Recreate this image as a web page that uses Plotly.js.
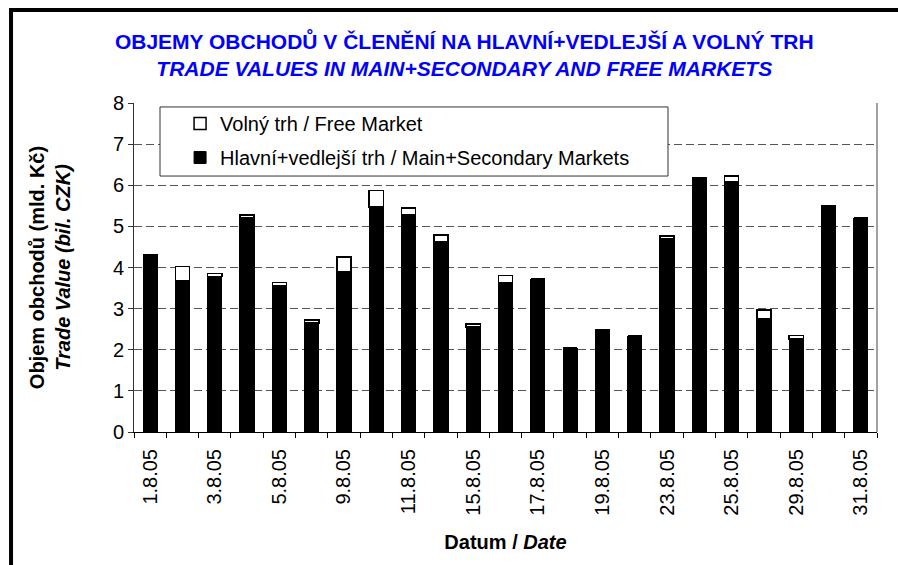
<!DOCTYPE html>
<html>
<head>
<meta charset="utf-8">
<script src="https://cdn.plot.ly/plotly-3.0.1.min.js"></script>
<style>html,body{margin:0;padding:0;background:#fff;}#chart{width:898px;height:565px;}</style>
</head>
<body>
<div id="chart"></div>
<script>
var categories = ['1.8.05','2.8.05','3.8.05','4.8.05','5.8.05','8.8.05','9.8.05','10.8.05','11.8.05','12.8.05','15.8.05','16.8.05','17.8.05','18.8.05','19.8.05','22.8.05','23.8.05','24.8.05','25.8.05','26.8.05','29.8.05','30.8.05','31.8.05'];
var mainSecondary = [4.31,3.69,3.78,5.21,3.56,2.65,3.89,5.47,5.28,4.63,2.55,3.62,3.72,2.04,2.48,2.33,4.71,6.19,6.08,2.76,2.26,5.51,5.20];
var freeMarket = [0,0.34,0.07,0.07,0.07,0.07,0.37,0.40,0.17,0.16,0.08,0.19,0,0,0,0,0.06,0,0.14,0.21,0.09,0,0];
var tickLabels = ['1.8.05','','3.8.05','','5.8.05','','9.8.05','','11.8.05','','15.8.05','','17.8.05','','19.8.05','','23.8.05','','25.8.05','','29.8.05','','31.8.05'];

var FONT = 'Arial, "Liberation Sans", Helvetica, sans-serif';

var traces = [
  {type:'bar', name:'Hlavní+vedlejší trh / Main+Secondary Markets', x:categories, y:mainSecondary,
   legendgroup:'a', legendrank:2, marker:{color:'#000000', line:{color:'#000000', width:1}}, hoverinfo:'x+y'},
  {type:'bar', name:'Volný trh / Free Market', x:categories, y:freeMarket,
   legendgroup:'b', legendrank:1, marker:{color:'#ffffff', line:{color:'#000000', width:1.5}}, hoverinfo:'x+y'}
];

var layout = {
  width:898, height:565,
  margin:{l:134, r:21, t:103, b:133, pad:0},
  paper_bgcolor:'#ffffff', plot_bgcolor:'#ffffff',
  barmode:'stack', bargap:0.56,
  font:{family:FONT, size:20, color:'#000000'},
  title:{
    text:'<b>OBJEMY OBCHODŮ V ČLENĚNÍ NA HLAVNÍ+VEDLEJŠÍ A VOLNÝ TRH</b><br><b><i>TRADE VALUES IN MAIN+SECONDARY AND FREE MARKETS</i></b>',
    font:{family:FONT, size:21, color:'#0000ff'},
    x:0.517, xanchor:'center', xref:'container',
    y:0.913, yanchor:'top', yref:'container'
  },
  xaxis:{
    type:'category', categoryorder:'array', categoryarray:categories,
    range:[-0.5, categories.length-0.5],
    tickmode:'array', tickvals:categories, ticktext:tickLabels,
    tickson:'boundaries', ticks:'outside', ticklen:5, tickcolor:'#000', tickwidth:1,
    tickangle:-90, ticklabelstandoff:8, tickfont:{family:FONT, size:20, color:'#000'},
    showline:true, linecolor:'#000', linewidth:1, showgrid:false, zeroline:false,
    automargin:false, fixedrange:true,
    title:{text:'<b>Datum / <i>Date</i></b>', font:{family:FONT, size:20, color:'#000'}, standoff:20}
  },
  xaxis2:{
    type:'category', categoryorder:'array', categoryarray:categories,
    range:[-0.5, categories.length-0.5],
    overlaying:'x', anchor:'y', side:'bottom',
    tickmode:'array', tickvals:categories, ticktext:categories.map(function(){return '';}),
    tickson:'boundaries', ticks:'inside', ticklen:5, tickcolor:'#000', tickwidth:1,
    showticklabels:false, showline:false, showgrid:false, zeroline:false, fixedrange:true
  },
  yaxis:{
    range:[0,8], tick0:0, dtick:1,
    showgrid:true, gridcolor:'#555555', gridwidth:1, griddash:'8px,4px',
    zeroline:false, showline:true, linecolor:'#333', linewidth:1,
    ticks:'outside', ticklen:5, tickcolor:'#333', tickwidth:1,
    tickfont:{family:FONT, size:20, color:'#000'},
    automargin:false, fixedrange:true,
    title:{text:'<b>Objem obchodů (mld. Kč)</b><br><b><i>Trade Value (bil. CZK)</i></b>', font:{family:FONT, size:20, color:'#000'}, standoff:36}
  },
  legend:{
    x:0.062, xanchor:'left', y:0.997, yanchor:'top',
    bgcolor:'rgba(0,0,0,0)', borderwidth:0,
    font:{family:FONT, size:20, color:'#000'},
    traceorder:'grouped', tracegroupgap:5
  },
  shapes:[
    {type:'rect', xref:'paper', yref:'paper', x0:0.035, x1:0.7187, y0:0.778, y1:0.988,
     fillcolor:'#ffffff', line:{color:'#333333', width:1}, layer:'above'},
    {type:'line', xref:'paper', yref:'paper', x0:1, x1:1, y0:0, y1:1,
     line:{color:'#444444', width:1}, layer:'above'},
    {type:'rect', xref:'paper', yref:'paper', x0:-0.1655, x1:1.3, y0:-0.5, y1:1.2827,
     fillcolor:'rgba(0,0,0,0)', line:{color:'#000000', width:4}, layer:'above'}
  ]
};

Plotly.newPlot('chart', traces, layout, {displayModeBar:false, staticPlot:true});
</script>
</body>
</html>
